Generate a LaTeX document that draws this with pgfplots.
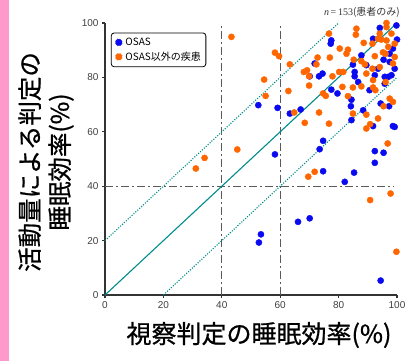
\documentclass[border=0pt]{standalone}
\usepackage{fontspec}
\setmainfont{Liberation Sans}
\newfontfamily\cjk{Noto Sans CJK JP}
\newfontfamily\cjkheavy[FakeBold=0.8]{Noto Sans CJK JP}
\newfontfamily\serif{Liberation Serif}
\usepackage{pgfplots}
\pgfplotsset{compat=1.18}
\definecolor{osasblue}{RGB}{10,10,240}
\definecolor{otherorange}{RGB}{255,102,0}
\definecolor{refteal}{RGB}{0,140,140}
\definecolor{guidegray}{RGB}{90,90,90}
\definecolor{sidepink}{RGB}{255,153,204}

\begin{document}
\begin{tikzpicture}
\path[use as bounding box] (0,0) rectangle (414pt,361pt);
\fill[sidepink] (0,0) rectangle (9pt,361pt);
\begin{axis}[
  at={(105pt,66pt)}, anchor=south west,
  scale only axis, width=292pt, height=272pt,
  xmin=0, xmax=100, ymin=0, ymax=100,
  axis lines=left,
  axis line style={-, line width=1.1pt, black!80},
  xtick={0,20,...,100}, ytick={0,20,...,100},
  tick align=outside, major tick length=3pt,
  tick style={line width=1.1pt, black!80},
  ticklabel style={font=\fontsize{10}{12}\selectfont, text=black!75},
  /pgf/number format/assume math mode=true,
  clip=false,
  legend style={at={(rel axis cs:0.02,0.965)}, anchor=north west,
    draw=black, line width=0.8pt, rounded corners=3pt,
    font=\cjk\fontsize{10}{12}\selectfont,
    row sep=1pt, inner xsep=3pt, inner ysep=3pt,
    /tikz/every even column/.append style={column sep=2pt}},
  legend cell align=left,
  pts/.style={only marks, mark=*, mark size=3.1pt, color=#1,
    mark options={draw=#1, fill=#1},
    legend image code/.code={\fill[#1] (0.3cm,0) ++(0,-4.2pt) -- ++(4.2pt,4.2pt) -- ++(-4.2pt,4.2pt) -- ++(-4.2pt,-4.2pt) -- cycle;}},
]
% guide lines
\addplot[forget plot, guidegray, line width=1.2pt, dash pattern=on 8pt off 3pt on 2pt off 3pt] coordinates {(40,0) (40,100)};
\addplot[forget plot, guidegray, line width=1.2pt, dash pattern=on 8pt off 3pt on 2pt off 3pt] coordinates {(60,0) (60,100)};
\addplot[forget plot, guidegray, line width=1.2pt, dash pattern=on 8pt off 3pt on 2pt off 3pt] coordinates {(0,40) (99,40)};
% identity and +-20 bands
\addplot[forget plot, refteal, line width=1.1pt] coordinates {(0,0) (100,100)};
\addplot[forget plot, refteal, line width=1.1pt, dash pattern=on 1.1pt off 1.5pt] coordinates {(0,20) (80,100)};
\addplot[forget plot, refteal, line width=1.1pt, dash pattern=on 1.1pt off 1.5pt] coordinates {(20,0) (100,80)};
% OSAS
\addplot[pts=osasblue] coordinates {
(52.5,69.8) (59.1,68.8) (63.3,66.7) (67.0,68.2) (58.2,51.7) (53.4,22.3) (52.7,19.3)
(66.1,26.9) (70.1,28.2) (73.5,53.6) (74.7,56.7) (74.7,45.5) (82.1,41.6) (85.3,45.0)
(84.4,64.3) (84.2,69.4) (84.4,71.8) (92.4,52.9) (92.4,48.6) (95.4,52.3) (94.4,5.3)
(99.2,61.8) (98.6,62.1) (91.8,62.1) (88.4,67.9) (94.4,70.4) (97.3,69.4) (71.8,85.1)
(70.1,80.4) (74.5,81.4) (73.3,80.4) (77.5,93.6) (77.3,92.4) (77.5,75.5) (79.6,74.1)
(84.9,84.7) (85.5,82.0) (85.5,80.4) (86.7,78.3) (91.8,94.2) (92.4,80.8) (93.5,83.2)
(94.1,98.2) (95.4,86.5) (95.8,80.2) (97.0,80.2) (98.1,80.8) (99.2,83.2) (99.8,99.1)
(100,93.9) (98.6,90.6) (97.5,88.7) (89.5,84.5) (87.8,88.1) (90.6,75.3) (95.8,77.7)
(97.5,85.7)
};
\addlegendentry{OSAS}
% other disorders
\addplot[pts=otherorange] coordinates {
(43.3,94.9) (58.2,89.1) (59.6,87.8) (63.3,84.8) (54.5,79.2) (55.0,73.2) (62.8,75.0)
(64.8,67.1) (68.1,82.0) (69.2,82.6) (69.9,80.4) (72.4,84.8) (72.8,87.3) (69.9,77.0)
(73.3,67.1) (68.4,63.3) (76.7,63.0) (77.0,87.3) (76.7,96.1) (74.7,74.1) (75.6,73.2)
(77.9,80.4) (80.4,90.6) (80.2,82.0) (81.6,82.0) (81.3,76.5) (83.2,90.2) (83.2,73.1)
(84.9,66.7) (84.9,76.3) (82.7,88.7) (86.1,97.9) (85.9,95.7) (85.2,86.5) (87.8,86.0)
(87.8,76.7) (88.6,92.7) (89.5,81.4) (89.0,84.8) (89.5,66.3) (89.5,61.2) (90.8,62.8)
(90.8,34.9) (91.6,92.4) (91.6,83.2) (91.8,79.0) (91.8,76.3) (92.6,75.3) (93.5,64.9)
(92.4,87.8) (94.1,96.1) (94.6,93.9) (95.4,69.4) (96.4,98.5) (96.4,100) (96.8,55.7)
(97.8,37.3) (97.5,72.2) (98.6,71.0) (96.1,88.7) (97.0,91.2) (98.1,96.1) (98.6,85.1)
(99.2,87.5) (99.2,92.4) (99.8,15.9) (69.6,43.5) (71.8,45.3) (31.1,46.5) (34.1,50.4)
(45.3,53.5) (96.1,78.3) (94.1,83.8) (95.2,89.2) (93.5,94.2) (96.4,93.6)
};
\addlegendentry{OSAS以外の疾患}
\end{axis}
\node[anchor=east, inner sep=0pt, text=black!80] at (400pt,349pt)
  {\fontsize{10}{12}\selectfont{\serif\itshape n}\,{\serif =}\,{\serif 153}{\cjk (患者のみ)}};
\node[rotate=90, align=center, inner sep=0pt, font=\cjkheavy\fontsize{24.5}{30}\selectfont] at (46pt,199pt)
  {活動量による判定の\\睡眠効率(\%)};
\node[inner sep=0pt, font=\cjkheavy\fontsize{25}{30}\selectfont] at (259pt,26pt)
  {視察判定の睡眠効率(\%)};
\end{tikzpicture}
\end{document}
